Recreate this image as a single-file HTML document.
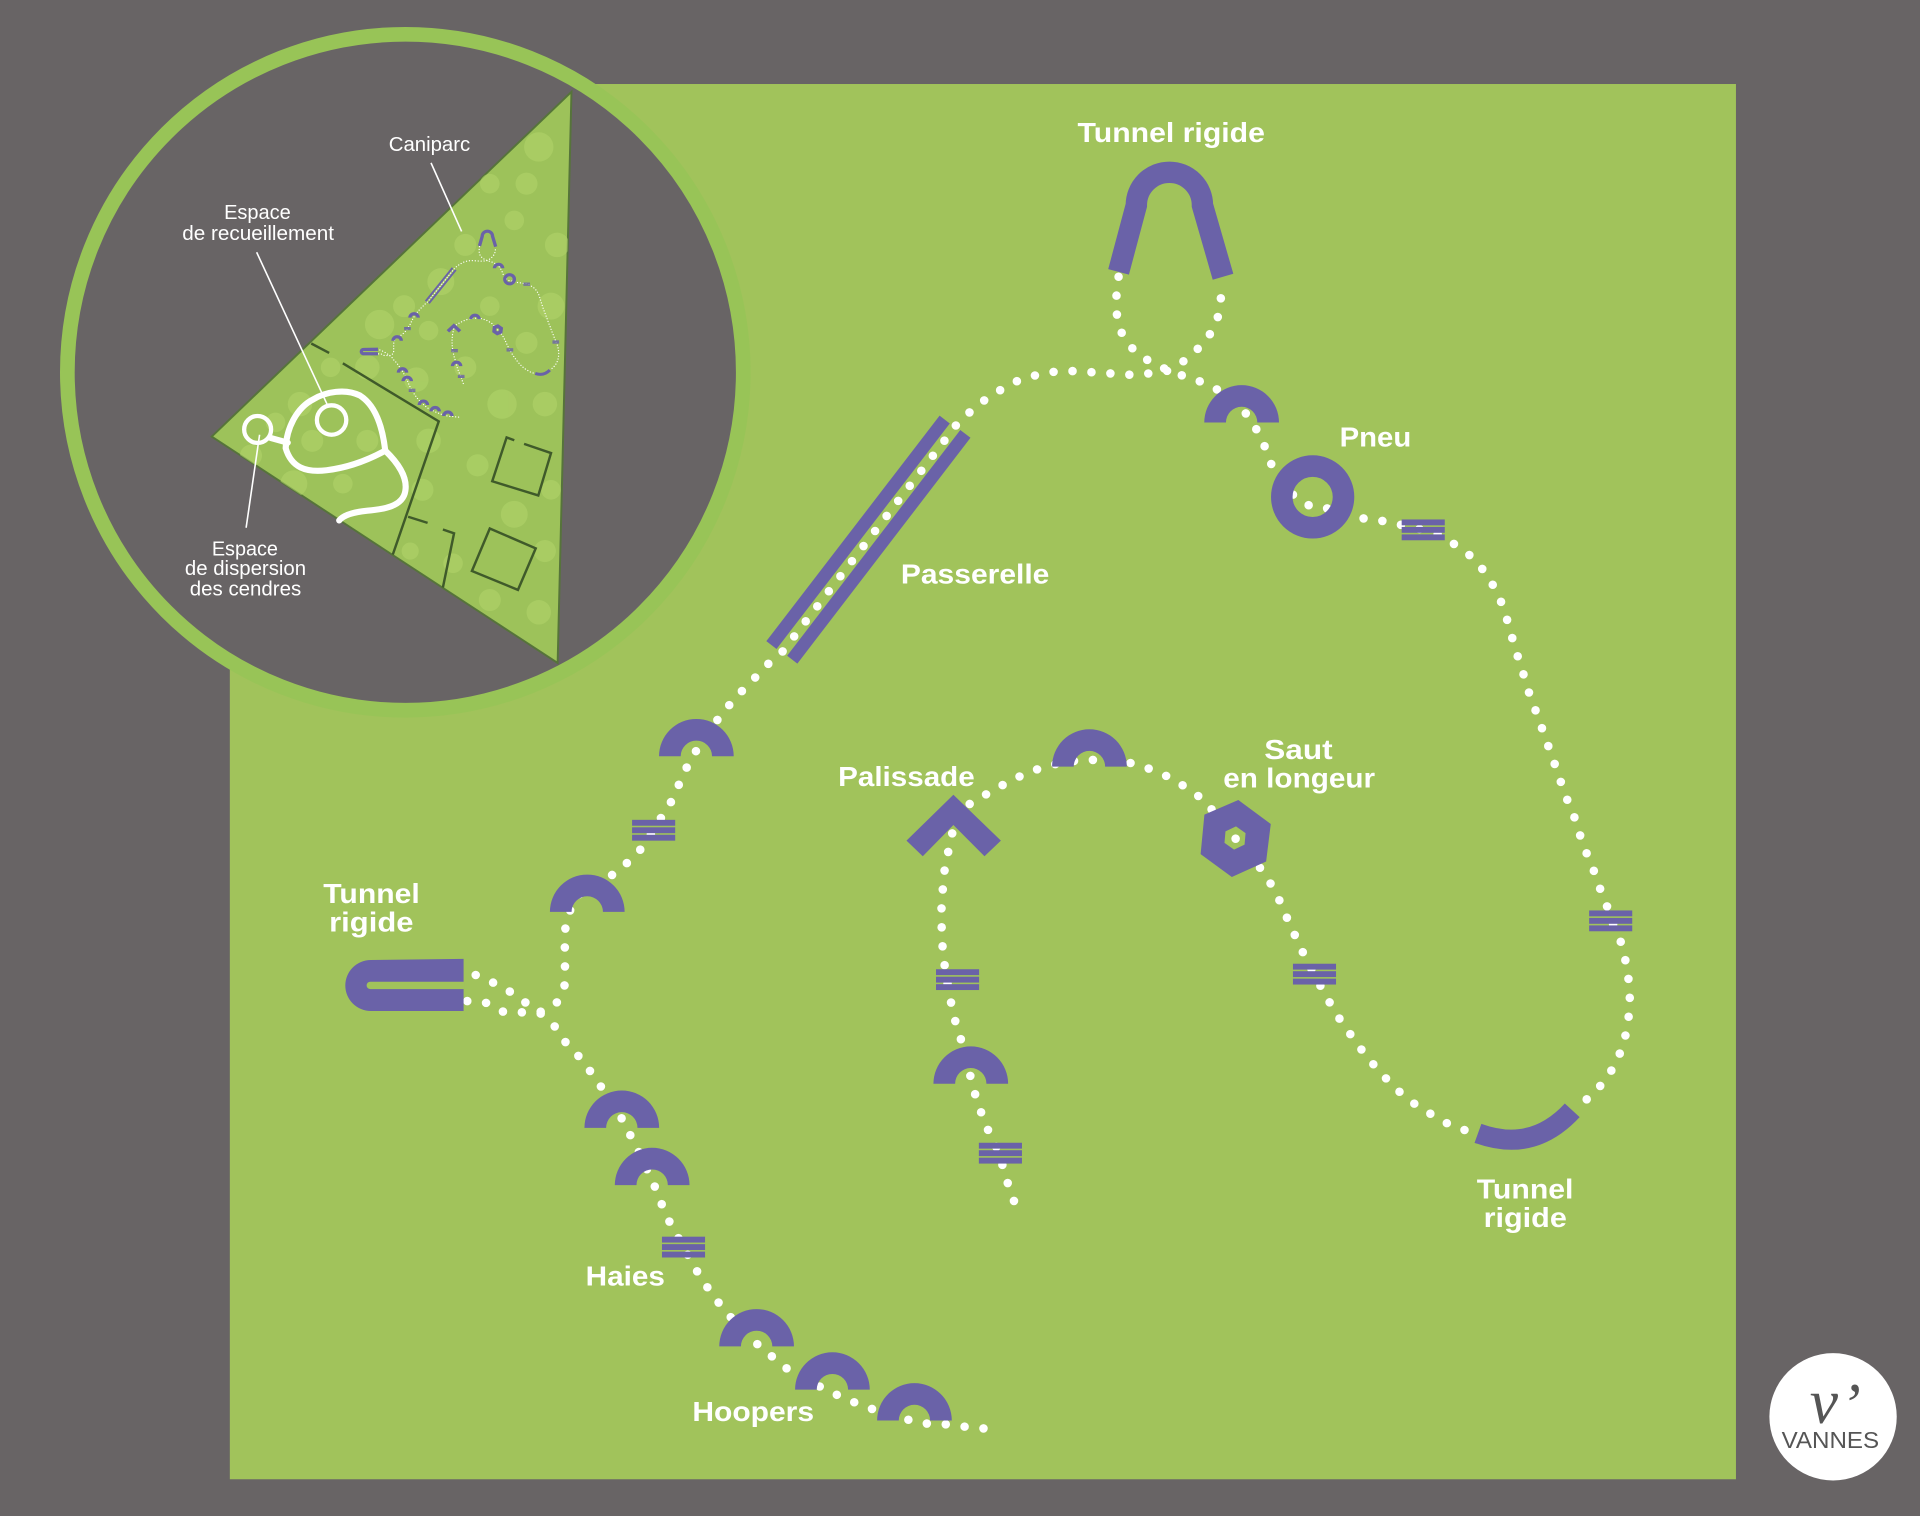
<!DOCTYPE html>
<html>
<head>
<meta charset="utf-8">
<style>
html,body{margin:0;padding:0;background:#686465;}
svg{display:block}
</style>
</head>
<body>
<svg xmlns="http://www.w3.org/2000/svg" xmlns:xlink="http://www.w3.org/1999/xlink" width="1920" height="1516" viewBox="0 0 1568 1238" preserveAspectRatio="none">
<defs>
  <path id="hoop" d="M-30.5,0 A30.5,30.5 0 0 1 30.5,0 L12.8,0 A12.8,12.8 0 0 0 -12.8,0 Z" fill="#6a62a8"/>
  <g id="haie" fill="#6a62a8">
    <rect x="-17.6" y="-8.5" width="35.2" height="4.8"/>
    <rect x="-17.6" y="-2.4" width="35.2" height="4.8"/>
    <rect x="-17.6" y="3.7" width="35.2" height="4.8"/>
  </g>
  <clipPath id="tri">
    <polygon points="466.7,75 455.4,541.4 172.9,356.5"/>
  </clipPath>
  <g id="course">
    <g fill="none" stroke="#ffffff" stroke-width="7" stroke-linecap="round" stroke-linejoin="round" stroke-dasharray="0 15.5">
      <polyline points="381.6,817.5 396,818.5 411,826.2 426,826.7 440.4,826.7 453.8,820.2 460.9,808 461.4,793 461.4,778 461,763 463.3,748 472,731 484,723 496,717.5 508.7,707.7 519.5,698 528.9,686.5 533.6,677 539,669 545.3,661 551.4,647 558,633.3 564,619.3 572.5,607.8 580,595 590.8,582 600,570 610.4,560 620.8,549 631,538.4 638.5,532.8 780,348.5 781.3,346.3 792.6,336 805,326 817.8,318 831.4,310.8 846,306.4 861.5,303.5 876.8,303 892,304 907.5,305 922.8,306 938,305 952.9,303 966.5,295 978,285 988.4,272.5 994.4,259.7 997,244 998,229.5"/>
      <polyline points="913.5,226 911.8,239 911.8,255 914.5,269 921.7,281.6 932.6,291.5 946,298.7 960,305 974,309 988.4,315 1001,322 1014,333 1021,342.5 1029.4,356 1035,370 1040,384 1050,398 1058,406 1070.4,413.6 1085.7,415.4 1100.5,421 1115.8,423.8 1130.6,425.6 1146,429 1162,432.6 1176,437 1188,444.6 1200.6,453.7 1210.5,464.6 1219,477.4 1225.7,491 1230.7,505.8 1235,521 1239.4,535.7 1244.3,551 1248.7,565.6 1254,580 1259.4,595 1264.7,610 1270,624.8 1274.8,638.9 1280,653.3 1286,668 1290.7,683 1296,697.5 1302,712 1307,726.4 1312.5,740.4 1317,754 1323.7,769.3 1327.4,784.2 1330,800 1331,815.2 1330,831 1327.4,845.8 1322.6,861 1315.7,874.7 1306.7,887 1295.5,898"/>
      <polyline points="1196,922.8 1183,918 1169.6,910.4 1156,902 1144,892.6 1133.5,882.4 1123.4,871.3 1113.8,859.8 1105.3,848 1096,835.2 1087.8,822 1080.4,808.9 1073.4,795.7 1066,782 1059.6,768 1053,754.5 1047.4,740.4 1040.5,726.4 1032.5,712.8 1020,698 1008.6,684.3 996,669 983.6,653.7 971.4,644.8 958,636.3 944.9,630 930,624.8 915,621 899.7,620.6 883.8,620.6 868,622.5 853.2,626.1 838.6,631.2 825.3,637.6 812,644.8 798.8,652.5 786,660 778.6,666 778.2,678 775,692.8 771.7,707.7 770.3,722.6 768.9,737.5 768.9,752.3 769.3,768 770.7,783 773,799 775.9,814.8 778.7,828.8 783,843.7 788,858 791.3,873.4 794.6,888.3 799.3,902.3 804,916.8 810,929 816,941.5 820.9,959.7 825.6,974.2 831.2,989"/>
      <polyline points="388.5,796.2 402.3,802.2 415.7,809.3 428.2,818 440.4,826.7 453.2,838.4 460.9,850 471.7,861.5 481,873.4 490,886.2 499,899 507,912 513.9,925.3 520.4,938 527,952 533.6,966 539.2,980.5 545.3,995 552.3,1008 558,1018 567.3,1035 575.8,1048.5 584.2,1060.5 594.5,1073 605,1085 614.7,1094.5 627.3,1105 639,1115 650.8,1123.4 665,1130 678.9,1137 693,1143.3 707,1148.8 722,1154 737.5,1158.2 753,1162.5 768,1162.5 783,1164.6 797.9,1165.9 812.4,1167.6"/>
    </g>
    <!-- passerelle -->
    <line x1="630" y1="526.8" x2="771.5" y2="342.6" stroke="#6a62a8" stroke-width="10.5"/>
    <line x1="647" y1="538.7" x2="788.4" y2="354.3" stroke="#6a62a8" stroke-width="10.5"/>
    <!-- tunnel top -->
    <path d="M913.5,222 L928,167.7 A27,27 0 0 1 982,167.7 L998.8,226" fill="none" stroke="#6a62a8" stroke-width="17.5"/>
    <!-- pneu -->
    <circle cx="1072" cy="405.8" r="25.2" fill="none" stroke="#6a62a8" stroke-width="17.6"/>
    <!-- tunnel bottom right -->
    <path d="M1207,925.5 C1225,932 1255,938 1284,906.7" fill="none" stroke="#6a62a8" stroke-width="16.5"/>
    <!-- tunnel left -->
    <path d="M378.6,783 L302.8,784 A20.8,20.8 0 0 0 302.8,825.6 L378.6,825.6 Z" fill="#6a62a8"/>
    <path d="M379,801.7 L302.4,801.7 A3,3 0 0 0 302.4,807.7 L379,807.7 Z" fill="#a1c35b"/>
    <!-- palissade -->
    <polygon points="778.6,649 817.4,686.5 804,699.2 778.6,673.7 753.6,699.2 740.3,686.5" fill="#6a62a8"/>
    <!-- saut en longueur hexagon -->
    <path fill-rule="evenodd" fill="#6a62a8" d="M1011.3,653.3 L1037.8,672.9 L1034,703.5 L1006,716.2 L980.5,697.5 L983.6,665.2 Z M1009.4,674.8 L1017.2,680.3 L1016.4,689.7 L1007.8,693.8 L1000,688.3 L1000.8,678.9 Z"/>
    <!-- hoopers -->
    <use xlink:href="#hoop" x="568.7" y="617.6"/>
    <use xlink:href="#hoop" x="479.6" y="744.7"/>
    <use xlink:href="#hoop" x="507.8" y="921"/>
    <use xlink:href="#hoop" x="532.6" y="967.8"/>
    <use xlink:href="#hoop" x="617.9" y="1099.5"/>
    <use xlink:href="#hoop" x="679.8" y="1134.8"/>
    <use xlink:href="#hoop" x="746.8" y="1160"/>
    <use xlink:href="#hoop" x="792.8" y="885"/>
    <use xlink:href="#hoop" x="889.7" y="626"/>
    <use xlink:href="#hoop" x="1014" y="345"/>
    <!-- haies -->
    <use xlink:href="#haie" x="533.8" y="678"/>
    <use xlink:href="#haie" x="558.2" y="1018.4"/>
    <use xlink:href="#haie" x="782" y="800"/>
    <use xlink:href="#haie" x="817" y="941.7"/>
    <use xlink:href="#haie" x="1162.3" y="432.7"/>
    <use xlink:href="#haie" x="1315.4" y="752"/>
    <use xlink:href="#haie" x="1073.5" y="795.5"/>
  </g>
</defs>

<!-- background -->
<rect x="0" y="0" width="1568" height="1238" fill="#686465"/>
<!-- green field -->
<rect x="187.7" y="68.6" width="1230" height="1139.4" fill="#a1c35b"/>

<!-- main course -->
<use xlink:href="#course"/>

<!-- labels -->
<g font-family="'Liberation Sans', Arial, sans-serif" font-weight="bold" font-size="22.5" fill="#ffffff">
  <text x="880" y="116" textLength="153" lengthAdjust="spacingAndGlyphs">Tunnel rigide</text>
  <text x="1094" y="364.7" textLength="58.5" lengthAdjust="spacingAndGlyphs">Pneu</text>
  <text x="735.7" y="476.3" textLength="121.3" lengthAdjust="spacingAndGlyphs">Passerelle</text>
  <text x="684.5" y="641.8" textLength="111.5" lengthAdjust="spacingAndGlyphs">Palissade</text>
  <text x="1032.5" y="619.7" textLength="55.8" lengthAdjust="spacingAndGlyphs">Saut</text>
  <text x="999" y="643" textLength="124" lengthAdjust="spacingAndGlyphs">en longeur</text>
  <text x="264" y="737.5" textLength="78.8" lengthAdjust="spacingAndGlyphs">Tunnel</text>
  <text x="268.8" y="760.8" textLength="68.9" lengthAdjust="spacingAndGlyphs">rigide</text>
  <text x="1206" y="978.8" textLength="79" lengthAdjust="spacingAndGlyphs">Tunnel</text>
  <text x="1211.6" y="1001.8" textLength="68" lengthAdjust="spacingAndGlyphs">rigide</text>
  <text x="478.3" y="1049.8" textLength="64.7" lengthAdjust="spacingAndGlyphs">Haies</text>
  <text x="565.4" y="1160.3" textLength="99.4" lengthAdjust="spacingAndGlyphs">Hoopers</text>
</g>

<!-- circle inset -->
<circle cx="331" cy="304" r="276" fill="#686465" stroke="#98c457" stroke-width="12"/>

<!-- triangle -->
<polygon points="466.7,75 455.4,541.4 172.9,356.5" fill="#9dc25a" stroke="#56743a" stroke-width="1.6"/>
<g clip-path="url(#tri)" fill="#b2d66c" opacity="0.55">
  <circle cx="440" cy="120" r="12"/><circle cx="430" cy="150" r="9"/><circle cx="455" cy="200" r="10"/>
  <circle cx="420" cy="180" r="8"/><circle cx="380" cy="200" r="9"/><circle cx="360" cy="230" r="11"/>
  <circle cx="330" cy="250" r="9"/><circle cx="310" cy="265" r="12"/><circle cx="300" cy="300" r="10"/>
  <circle cx="270" cy="300" r="8"/><circle cx="245" cy="330" r="10"/><circle cx="225" cy="345" r="8"/>
  <circle cx="205" cy="372" r="9"/><circle cx="240" cy="395" r="11"/><circle cx="280" cy="395" r="8"/>
  <circle cx="300" cy="360" r="9"/><circle cx="340" cy="310" r="10"/><circle cx="380" cy="300" r="9"/>
  <circle cx="410" cy="330" r="12"/><circle cx="445" cy="330" r="10"/><circle cx="430" cy="280" r="9"/>
  <circle cx="450" cy="250" r="11"/><circle cx="400" cy="250" r="8"/><circle cx="350" cy="360" r="10"/>
  <circle cx="390" cy="380" r="9"/><circle cx="420" cy="420" r="11"/><circle cx="445" cy="450" r="9"/>
  <circle cx="440" cy="500" r="10"/><circle cx="400" cy="490" r="9"/><circle cx="370" cy="460" r="8"/>
  <circle cx="345" cy="400" r="9"/><circle cx="335" cy="450" r="7"/><circle cx="450" cy="400" r="8"/>
  <circle cx="400" cy="150" r="8"/><circle cx="350" cy="270" r="8"/><circle cx="255" cy="360" r="9"/>
</g>

<!-- dark divider lines -->
<g fill="none" stroke="#3f5a2a" stroke-width="2">
  <line x1="254.2" y1="280.5" x2="268.8" y2="288.2"/>
  <polyline points="280,296.7 358.3,344.1 320.8,452.8"/>
  <line x1="333.3" y1="422" x2="349.2" y2="427"/>
  <polyline points="361.7,432.4 370.8,435.5 361.7,479.8"/>
  <polyline points="428,362.5 450,370 439.6,404.6 402,393 413.75,357.2 420,359.5"/>
  <polygon points="400,431.6 437.5,447.8 423,481.7 385.4,466.3"/>
</g>

<!-- mini course -->
<g clip-path="url(#tri)">
  <use xlink:href="#course" transform="translate(250,168) scale(0.155,0.148)"/>
</g>

<!-- white paths -->
<g fill="none" stroke="#ffffff" stroke-width="5" stroke-linejoin="round" stroke-linecap="round">
  <path d="M233.3,366 C234,350 242,333 256,326 C266,320 282,317 294,323 C305,330 312,345 314.6,368 C300,376 283,382 266.7,384 C250,386 238,382 233.3,366 Z"/>
  <path d="M314.6,368 C325,378 333,390 331,401 C329,414 312,416 300,417 C290,418 281,420 277,425"/>
  <circle cx="270.8" cy="343" r="12" stroke-width="3.5"/>
  <circle cx="210.4" cy="350.7" r="11" stroke-width="3.5"/>
  <line x1="221" y1="357.6" x2="235" y2="361.5" stroke-width="5"/>
</g>

<!-- leader lines -->
<g stroke="#ffffff" stroke-width="1.3">
  <line x1="352" y1="133" x2="377" y2="189"/>
  <line x1="209.6" y1="206" x2="268" y2="332"/>
  <line x1="201" y1="431" x2="212" y2="355"/>
</g>

<!-- inset labels -->
<g font-family="'Liberation Sans', Arial, sans-serif" font-size="16.5" fill="#ffffff">
  <text x="317.5" y="123.3" textLength="66.5" lengthAdjust="spacingAndGlyphs">Caniparc</text>
  <text x="183" y="178.8" textLength="54.5" lengthAdjust="spacingAndGlyphs">Espace</text>
  <text x="148.8" y="196" textLength="124" lengthAdjust="spacingAndGlyphs">de recueillement</text>
  <text x="173" y="453.6" textLength="54" lengthAdjust="spacingAndGlyphs">Espace</text>
  <text x="151" y="469.6" textLength="99" lengthAdjust="spacingAndGlyphs">de dispersion</text>
  <text x="155" y="486.2" textLength="91" lengthAdjust="spacingAndGlyphs">des cendres</text>
</g>

<!-- Vannes logo -->
<circle cx="1497" cy="1157" r="52" fill="#ffffff"/>
<text x="1478" y="1162" font-family="'Liberation Serif', 'Times New Roman', serif" font-style="italic" font-size="52" fill="#555555">v</text>
<text x="1503" y="1164" font-family="'Liberation Serif', 'Times New Roman', serif" font-style="italic" font-size="50" fill="#555555">’</text>
<text x="1455" y="1182.4" font-family="'Liberation Sans', Arial, sans-serif" font-size="19" fill="#555555" textLength="79.6" lengthAdjust="spacingAndGlyphs">VANNES</text>
</svg>
</body>
</html>
